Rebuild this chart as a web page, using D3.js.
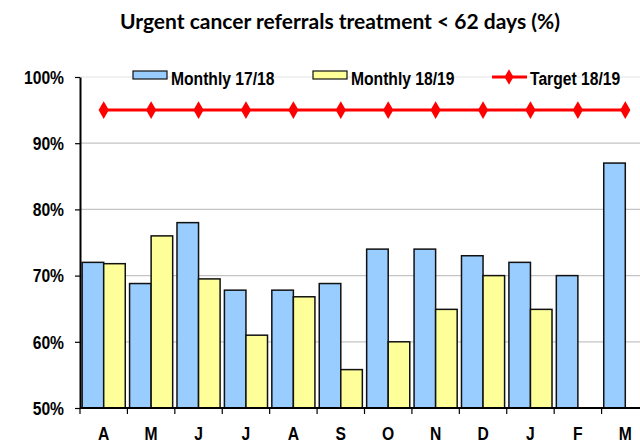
<!DOCTYPE html>
<html>
<head>
<meta charset="utf-8">
<script src="https://cdn.jsdelivr.net/npm/d3@7"></script>
<style>
  body { margin: 0; background: #fff; }
  svg { display: block; }
  .lbl { font-family: "Liberation Sans", Arial, sans-serif; font-weight: bold; font-size: 18px; fill: #000; }
</style>
</head>
<body>
<svg id="chart" width="640" height="444"></svg>
<script>
// Urgent cancer referrals - monthly performance
const months = ['A', 'M', 'J', 'J', 'A', 'S', 'O', 'N', 'D', 'J', 'F', 'M'];
const monthly1718 = [72, 68.8, 78, 67.8, 67.8, 68.8, 74, 74, 73, 72, 70, 87];
const monthly1819 = [71.8, 76, 69.5, 61, 66.8, 55.8, 60, 64.9, 70, 64.9, null, null];
const target1819 = [95, 95, 95, 95, 95, 95, 95, 95, 95, 95, 95, 95];
const yTicks = [50, 60, 70, 80, 90, 100];

const svg = d3.select('#chart');
const plotLeft = 80, plotRight = 649, plotTop = 77, plotBottom = 408;
const squeeze = 0.87; // labels look like a narrow font

// place a condensed label at (px, py)
function narrowText(sel, px, py) {
  return sel
    .attr('class', 'lbl')
    .attr('x', 0)
    .attr('y', 0)
    .attr('transform', (d, i) => {
      const tx = typeof px === 'function' ? px(d, i) : px;
      const ty = typeof py === 'function' ? py(d, i) : py;
      return `translate(${tx},${ty}) scale(${squeeze},1)`;
    });
}

const x = d3.scaleBand()
  .domain(d3.range(months.length))
  .range([plotLeft, plotRight])
  .padding(0);

const inner = d3.scaleBand()
  .domain(['a', 'b'])
  .range([0, x.bandwidth()])
  .paddingInner(0)
  .paddingOuter(0.1);

const y = d3.scaleLinear()
  .domain([50, 100])
  .range([plotBottom, plotTop]);

// title
svg.append('text')
  .attr('x', 340)
  .attr('y', 29)
  .attr('text-anchor', 'middle')
  .style('font-family', 'Lato, "Open Sans", sans-serif')
  .style('font-weight', 'bold')
  .style('font-size', '21px')
  .text('Urgent cancer referrals treatment < 62 days (%)');

// gridlines
svg.append('g')
  .selectAll('line')
  .data(yTicks.filter(d => d > 50))
  .enter()
  .append('line')
  .attr('x1', plotLeft)
  .attr('x2', 640)
  .attr('y1', d => y(d))
  .attr('y2', d => y(d))
  .attr('stroke', d => d === 100 ? '#e4e4e4' : '#c4c4c4')
  .attr('stroke-width', 1.2);

// bars
const groups = svg.append('g')
  .selectAll('g')
  .data(months.map((m, i) => i))
  .enter()
  .append('g')
  .attr('transform', i => `translate(${x(i)},0)`);

groups.filter(i => monthly1718[i] != null)
  .append('rect')
  .attr('x', inner('a'))
  .attr('y', i => y(monthly1718[i]))
  .attr('width', inner.bandwidth())
  .attr('height', i => plotBottom - y(monthly1718[i]))
  .attr('fill', '#99ccff')
  .attr('stroke', '#111')
  .attr('stroke-width', 1.5);

groups.filter(i => monthly1819[i] != null)
  .append('rect')
  .attr('x', inner('b'))
  .attr('y', i => y(monthly1819[i]))
  .attr('width', inner.bandwidth())
  .attr('height', i => plotBottom - y(monthly1819[i]))
  .attr('fill', '#ffff99')
  .attr('stroke', '#111')
  .attr('stroke-width', 1.5);

// target line
const line = d3.line()
  .x((d, i) => x(i) + x.bandwidth() / 2)
  .y(d => y(d));

svg.append('path')
  .datum(target1819)
  .attr('d', line)
  .attr('fill', 'none')
  .attr('stroke', '#ff0000')
  .attr('stroke-width', 3);

const diamond = d3.symbol().type(d3.symbolDiamond).size(90);
svg.append('g')
  .selectAll('path')
  .data(target1819)
  .enter()
  .append('path')
  .attr('d', diamond)
  .attr('transform', (d, i) => `translate(${x(i) + x.bandwidth() / 2},${y(d)})`)
  .attr('fill', '#ff0000');

// y axis
const yAxis = svg.append('g')
  .attr('transform', `translate(${plotLeft},0)`)
  .call(d3.axisLeft(y).tickValues(yTicks).tickFormat(d => d + '%').tickSize(5).tickSizeOuter(0));
yAxis.select('.domain').attr('stroke', '#000').attr('stroke-width', 2);
yAxis.selectAll('.tick line').attr('stroke', '#000').attr('stroke-width', 1.2);
narrowText(yAxis.selectAll('.tick text'), -16, 0)
  .attr('dy', '0.35em')
  .attr('text-anchor', 'end');

// x axis
svg.append('line')
  .attr('x1', plotLeft)
  .attr('x2', 640)
  .attr('y1', plotBottom)
  .attr('y2', plotBottom)
  .attr('stroke', '#000')
  .attr('stroke-width', 2);

svg.append('g')
  .selectAll('line')
  .data(d3.range(months.length))
  .enter()
  .append('line')
  .attr('x1', i => x(i))
  .attr('x2', i => x(i))
  .attr('y1', plotBottom)
  .attr('y2', plotBottom + 6)
  .attr('stroke', '#000')
  .attr('stroke-width', 1.2);

narrowText(
  svg.append('g')
    .selectAll('text')
    .data(months)
    .enter()
    .append('text'),
  (d, i) => x(i) + x.bandwidth() / 2, 440)
  .attr('text-anchor', 'middle')
  .text(d => d);

// legend
const legend = svg.append('g');
const legendItems = [
  { label: 'Monthly 17/18', type: 'rect', color: '#99ccff', x: 133 },
  { label: 'Monthly 18/19', type: 'rect', color: '#ffff99', x: 313 },
  { label: 'Target 18/19', type: 'line', color: '#ff0000', x: 492 }
];

legendItems.forEach(item => {
  const g = legend.append('g').attr('transform', `translate(${item.x},77)`);
  if (item.type === 'rect') {
    g.append('rect')
      .attr('x', 0).attr('y', -6)
      .attr('width', 34).attr('height', 8)
      .attr('fill', item.color)
      .attr('stroke', '#111')
      .attr('stroke-width', 1.2);
  } else {
    g.append('line')
      .attr('x1', 0).attr('x2', 35)
      .attr('y1', 0).attr('y2', 0)
      .attr('stroke', item.color)
      .attr('stroke-width', 3);
    g.append('path')
      .attr('d', d3.symbol().type(d3.symbolDiamond).size(70))
      .attr('transform', 'translate(17,0)')
      .attr('fill', item.color);
  }
  g.append('text')
    .attr('class', 'lbl')
    .attr('transform', `translate(38,8) scale(${squeeze},1)`)
    .text(item.label);
});
</script>
</body>
</html>
